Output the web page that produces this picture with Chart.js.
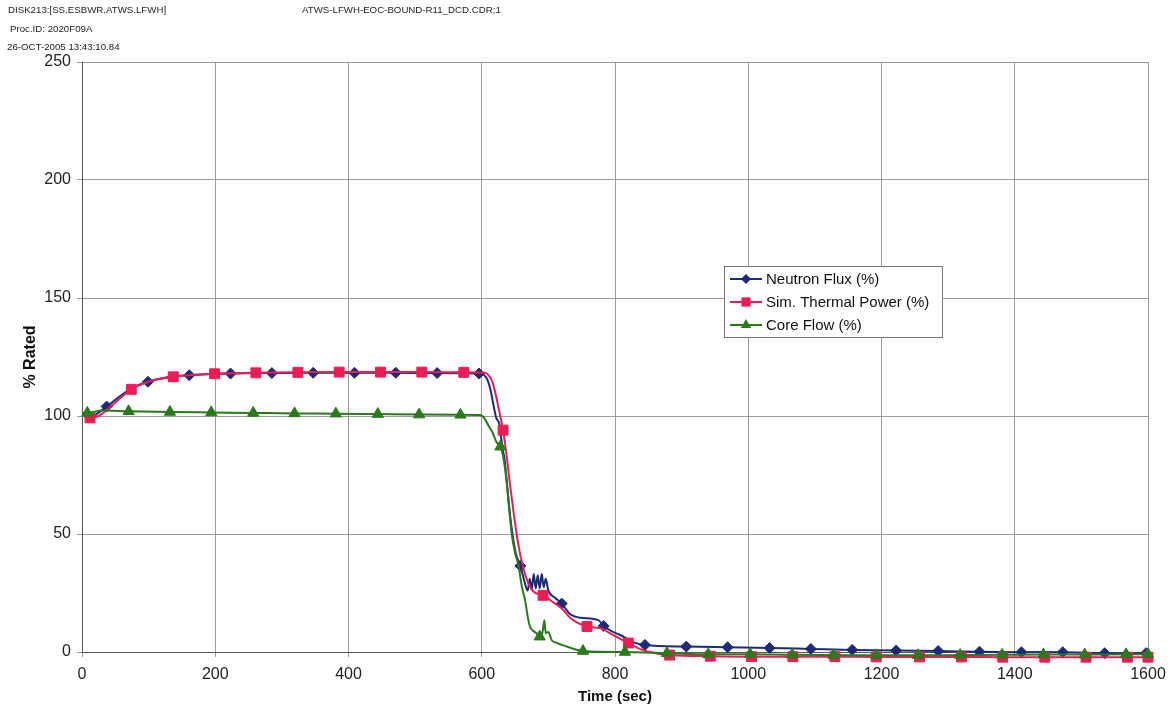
<!DOCTYPE html>
<html>
<head>
<meta charset="utf-8">
<script src="https://cdn.jsdelivr.net/npm/chart.js@4.4.0/dist/chart.umd.min.js"></script>
<style>
body { margin: 0; background: #fff; }
#wrap { position: relative; width: 1168px; height: 711px; }
.hdr { position: absolute; font: 9.7px "Liberation Sans", Arial, sans-serif; color: #222; white-space: nowrap; }
</style>
</head>
<body>
<div id="wrap">
<canvas id="c" width="1168" height="711"></canvas>
<div class="hdr" style="left:8px;top:4px">DISK213:[SS.ESBWR.ATWS.LFWH]</div>
<div class="hdr" style="left:302px;top:4px">ATWS-LFWH-EOC-BOUND-R11_DCD.CDR;1</div>
<div class="hdr" style="left:10px;top:23px">Proc.ID: 2020F09A</div>
<div class="hdr" style="left:7px;top:41px">26-OCT-2005 13:43:10.84</div>
</div>
<script>
// series labels
var seriesNames = ['Neutron Flux (%)', 'Sim. Thermal Power (%)', 'Core Flow (%)'];

// Neutron Flux (time sec, % rated)
var fluxT = [0, 10, 20, 37, 60, 80, 99, 130, 161, 223, 285, 347, 409, 471, 533, 596, 603, 609, 614, 618, 622, 626, 629, 632, 634, 637, 641, 646, 651, 658, 664, 669, 672, 675, 678, 681, 684, 687, 690, 693, 696, 700, 710, 720, 733, 748, 775, 783, 797, 808, 827, 845, 907, 969, 1032, 1094, 1156, 1222, 1285, 1347, 1410, 1472, 1535, 1597, 1600];
var fluxV = [100.5, 99.5, 100.5, 104, 109, 112.5, 114.5, 116.5, 117.3, 118, 118.2, 118.3, 118.3, 118.3, 118.2, 118, 117.5, 115, 110, 104, 99, 97, 91, 85, 82, 74, 62, 50, 42, 36.5, 30, 26, 31, 26.5, 33, 27, 32.5, 27, 33, 27.5, 31, 26, 23, 20.5, 16, 14.5, 13.5, 11, 8.5, 7.2, 4.2, 3, 2.3, 2, 1.7, 1.3, 0.9, 0.6, 0.4, 0.1, -0.1, -0.1, -0.5, -0.5, -0.5];
var fluxMarks = [37, 99, 161, 223, 285, 347, 409, 471, 533, 596, 658, 720, 783, 845, 907, 969, 1032, 1094, 1156, 1222, 1285, 1347, 1410, 1472, 1535, 1597];

// Sim. Thermal Power
var powerT = [0, 12, 25, 45, 74, 100, 137, 199, 261, 324, 386, 448, 510, 573, 605, 611, 616, 621, 627, 632, 637, 642, 647, 654, 662, 670, 678, 692, 705, 720, 733, 758, 780, 792, 820, 840, 852, 882, 943, 1005, 1067, 1130, 1192, 1257, 1320, 1382, 1445, 1507, 1569, 1600];
var powerV = [100.3, 99.2, 100, 104.5, 111.3, 114.5, 116.6, 117.9, 118.3, 118.5, 118.6, 118.6, 118.6, 118.5, 118.3, 117, 114.5, 109, 101, 94, 84, 72, 61, 47, 36, 29, 25.5, 24, 21.5, 18.5, 14.4, 10.8, 10, 8, 3.8, 1, 0, -1.3, -1.8, -2, -2, -2, -2.1, -2.1, -2.1, -2.2, -2.2, -2.2, -2.2, -2.2];
var powerMarks = [12, 74, 137, 199, 261, 324, 386, 448, 510, 573, 632, 692, 758, 820, 882, 943, 1005, 1067, 1130, 1192, 1257, 1320, 1382, 1445, 1507, 1569, 1600];

// Core Flow
var flowT = [0, 8, 30, 70, 132, 194, 257, 319, 381, 444, 506, 568, 598, 604, 610, 617, 622, 628, 632, 637, 641, 645, 650, 655, 660, 665, 669, 672, 677, 682, 687, 691, 694, 696, 700, 705, 712, 720, 733, 752, 780, 815, 878, 940, 1003, 1066, 1128, 1192, 1255, 1318, 1381, 1443, 1505, 1567, 1600];
var flowV = [101.5, 101.3, 102.3, 102, 101.7, 101.5, 101.3, 101.1, 101, 100.8, 100.6, 100.5, 100.4, 99, 96, 92.5, 89, 87, 83, 73, 61, 50, 42, 37, 28, 22, 15, 11, 9, 8, 6.5, 8, 13.5, 8, 8.5, 5, 4, 3, 1.8, 0.4, 0.1, 0, -0.5, -1, -1, -1.2, -1.3, -1.4, -1.4, -1.3, -1.2, -1.1, -1.1, -1, -1];
var flowMarks = [8, 70, 132, 194, 257, 319, 381, 444, 506, 568, 628, 687, 752, 815, 878, 940, 1003, 1066, 1128, 1192, 1255, 1318, 1381, 1443, 1505, 1567, 1600];

// axis ticks
var xTicks = [0, 200, 400, 600, 800, 1000, 1200, 1400, 1600];
var yTicks = [0, 50, 100, 150, 200, 250];

var colors = ['#1c2a78', '#ee1c55', '#2a7a1c'];
var styles = ['rectRot', 'rect', 'triangle'];
var radii = [5.5, 7, 6.5];
var FONT = '"Liberation Sans", Arial, sans-serif';

function pts(t, v) {
	return t.map(function(x, i) { return { x: x, y: v[i] }; });
}

function makeSet(i, t, v, marks) {
	return {
		label: seriesNames[i],
		data: pts(t, v),
		borderColor: colors[i],
		backgroundColor: colors[i],
		borderWidth: 2,
		pointStyle: styles[i],
		pointBackgroundColor: colors[i],
		pointBorderColor: colors[i],
		pointBorderWidth: 1,
		pointRadius: function(ctx) {
			return marks.indexOf(ctx.raw.x) >= 0 ? radii[i] : 0;
		},
		pointHoverRadius: 0,
		cubicInterpolationMode: 'monotone',
		clip: false,
		order: 2 - i
	};
}

function drawMark(ctx, style, x, y, r) {
	ctx.beginPath();
	if (style === 'rectRot') {
		ctx.moveTo(x, y - r); ctx.lineTo(x + r, y); ctx.lineTo(x, y + r); ctx.lineTo(x - r, y);
	} else if (style === 'rect') {
		var s = r * Math.SQRT1_2;
		ctx.rect(x - s, y - s, 2 * s, 2 * s);
	} else {
		var h = r * 0.866;
		ctx.moveTo(x, y - r); ctx.lineTo(x + h, y + r / 2); ctx.lineTo(x - h, y + r / 2);
	}
	ctx.closePath();
	ctx.fill();
}

// Excel-like legend box: line with marker in the middle
var boxLegend = {
	id: 'boxLegend',
	afterDraw: function(chart) {
		var ctx = chart.ctx;
		ctx.save();
		ctx.fillStyle = '#fff';
		ctx.strokeStyle = '#777';
		ctx.lineWidth = 1;
		ctx.fillRect(724.5, 266.5, 218, 71);
		ctx.strokeRect(724.5, 266.5, 218, 71);
		ctx.font = '15px ' + FONT;
		ctx.textBaseline = 'middle';
		for (var i = 0; i < 3; i++) {
			var y = 279 + i * 23;
			ctx.strokeStyle = colors[i];
			ctx.lineWidth = 2;
			ctx.beginPath();
			ctx.moveTo(730, y);
			ctx.lineTo(762, y);
			ctx.stroke();
			ctx.fillStyle = colors[i];
			drawMark(ctx, styles[i], 746, y, radii[i] - 0.5);
			ctx.fillStyle = '#111';
			ctx.fillText(seriesNames[i], 766, y + 1);
		}
		ctx.restore();
	}
};

function plain(v) { return String(v); }

new Chart(document.getElementById('c'), {
	type: 'line',
	data: {
		datasets: [
			makeSet(0, fluxT, fluxV, fluxMarks),
			makeSet(1, powerT, powerV, powerMarks),
			makeSet(2, flowT, flowV, flowMarks)
		]
	},
	options: {
		responsive: false,
		devicePixelRatio: 1,
		animation: false,
		layout: { padding: { left: 0, right: 20, top: 62, bottom: 0 } },
		plugins: { legend: { display: false }, tooltip: { enabled: false } },
		scales: {
			x: {
				type: 'linear',
				min: 0,
				max: 1600,
				afterBuildTicks: function(s) { s.ticks = xTicks.map(function(v) { return { value: v }; }); },
				ticks: { color: '#222', font: { family: FONT, size: 16 }, padding: 8, callback: plain },
				grid: { color: '#9a9a9a', tickLength: 5, lineWidth: 1 },
				border: { color: '#555' },
				title: { display: true, text: 'Time (sec)', color: '#111', font: { family: FONT, size: 15, weight: 'bold' }, padding: { top: 0, bottom: 5 } },
				afterFit: function(s) { s.height = 59; s.paddingLeft = 0; s.paddingRight = 0; }
			},
			y: {
				min: 0,
				max: 250,
				afterBuildTicks: function(s) { s.ticks = yTicks.map(function(v) { return { value: v }; }); },
				ticks: { color: '#222', font: { family: FONT, size: 16 }, padding: 6, callback: plain },
				grid: { color: '#9a9a9a', tickLength: 5, lineWidth: 1 },
				border: { color: '#555' },
				title: { display: true, text: '% Rated', color: '#111', font: { family: FONT, size: 16, weight: 'bold' }, padding: { top: 21, bottom: 0 } },
				afterFit: function(s) { s.width = 82; s.paddingTop = 0; s.paddingBottom = 0; }
			}
		}
	},
	plugins: [boxLegend]
});
</script>
</body>
</html>
